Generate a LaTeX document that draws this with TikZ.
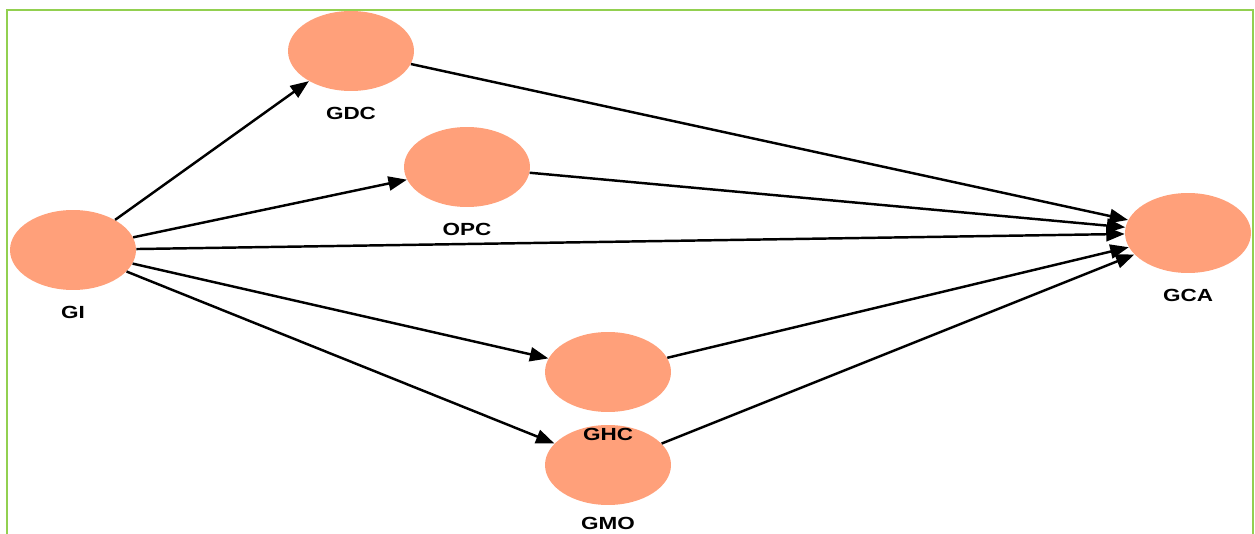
\documentclass[tikz,border=0pt]{standalone}
\usepackage{fontspec}
\usepackage{tikz}
\usetikzlibrary{arrows.meta, positioning, shapes.geometric}
\newfontfamily\labfont[FakeStretch=1.28]{Liberation Sans}
\definecolor{salmon}{RGB}{255,160,122}
\definecolor{framegreen}{RGB}{146,208,80}
\tikzstyle{vertex}=[ellipse, fill=salmon, minimum width=2.52cm, minimum height=1.6cm, inner sep=0pt]
\tikzstyle{lab}=[font=\labfont\bfseries\fontsize{10}{12}\selectfont]
\tikzstyle{link}=[->, line width=1.4pt]

\begin{document}
\begin{tikzpicture}[>={Triangle[length=10.5pt, width=8pt]}, x=0.02cm, y=-0.02cm]
\useasboundingbox (0,0) rectangle (1255,534);
\draw[framegreen, line width=1.5pt] (7,534) -- (7,10) -- (1253,10) -- (1253,534);
\node[vertex] at (73,250) (gi) {};
\node[vertex] at (351,51) (gdc) {};
\node[vertex] at (467,167) (opc) {};
\node[vertex] at (608,372) (ghc) {};
\node[vertex] at (608,465) (gmo) {};
\node[vertex] at (1188,233) (gca) {};
%labels sit under the ellipses
\node[lab, below = .2cm of gi] (gi_lab) {GI};
\node[lab, below = .2cm of gdc] (gdc_lab) {GDC};
\node[lab, below = .2cm of opc] (opc_lab) {OPC};
\node[lab, below = .2cm of ghc] (ghc_lab) {GHC};
\node[lab, below = .12cm of gmo] (gmo_lab) {GMO};
\node[lab, below = .2cm of gca] (gca_lab) {GCA};
\draw[link] (gi) -- (gdc);
\draw[link] (gi) -- (opc);
\draw[link] (gi) -- (gca);
\draw[link] (gi) -- (ghc);
\draw[link] (gi) -- (gmo);
\draw[link] (gdc) -- (gca);
\draw[link] (opc) -- (gca);
\draw[link] (ghc) -- (gca);
\draw[link] (gmo) -- (gca);
\end{tikzpicture}
\end{document}
